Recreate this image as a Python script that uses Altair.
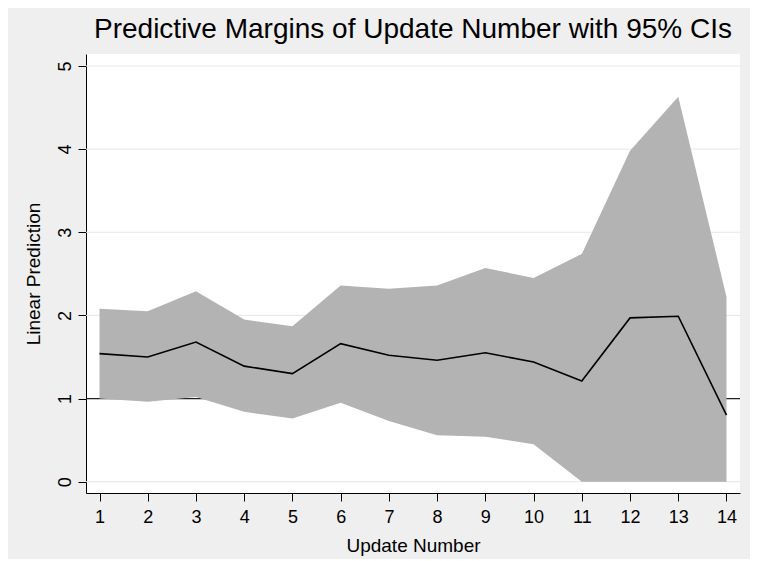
import altair as alt
import pandas as pd

update = list(range(1, 15))
margin = [1.54, 1.50, 1.68, 1.39, 1.30, 1.66, 1.52, 1.46, 1.55, 1.44, 1.21, 1.97, 1.99, 0.80]
upper = [2.08, 2.05, 2.29, 1.95, 1.87, 2.36, 2.32, 2.36, 2.57, 2.45, 2.74, 3.98, 4.63, 2.22]
lower = [1.00, 0.96, 1.02, 0.84, 0.76, 0.95, 0.73, 0.56, 0.54, 0.45, 0.00, 0.00, 0.00, 0.00]
y_ticks = [0, 1, 2, 3, 4, 5]
grid_vals = [0, 2, 3, 4, 5]
ref_val = [1]

df = pd.DataFrame({"x": update, "m": margin, "hi": upper, "lo": lower})
grid_df = pd.DataFrame({"y": grid_vals})
ref_df = pd.DataFrame({"y": ref_val})

FONT = "Liberation Sans"
xscale = alt.Scale(domain=[0.72, 14.28], nice=False, zero=False)
yscale = alt.Scale(domain=[-0.136, 5.144], nice=False, zero=False)

xaxis = alt.Axis(values=update, title="Update Number", grid=False, tickSize=8,
                 labelFontSize=18, titleFontSize=19, labelFont=FONT, titleFont=FONT,
                 titleFontWeight="normal", labelColor="black", titleColor="black",
                 domainColor="black", tickColor="black", labelPadding=7, titlePadding=10,
                 labelFlush=False)
yaxis = alt.Axis(values=y_ticks, title="Linear Prediction", grid=False, tickSize=8,
                 labelFontSize=18, titleFontSize=19, labelFont=FONT, titleFont=FONT,
                 titleFontWeight="normal", labelColor="black", titleColor="black",
                 domainColor="black", tickColor="black", labelAngle=270,
                 labelAlign="center", labelBaseline="bottom", labelPadding=4,
                 titlePadding=13, labelFlush=False)

grid = alt.Chart(grid_df).mark_rule(color="#e6e6e6", strokeWidth=1).encode(
    y=alt.Y("y:Q", scale=yscale, axis=yaxis))
ref = alt.Chart(ref_df).mark_rule(color="#222222", strokeWidth=1.2).encode(
    y=alt.Y("y:Q", scale=yscale, axis=yaxis))
band = alt.Chart(df).mark_area(color="#b3b3b3", opacity=1).encode(
    x=alt.X("x:Q", scale=xscale, axis=xaxis),
    y=alt.Y("lo:Q", scale=yscale, axis=yaxis),
    y2="hi:Q")
line = alt.Chart(df).mark_line(color="black", strokeWidth=1.6).encode(
    x=alt.X("x:Q", scale=xscale, axis=xaxis),
    y=alt.Y("m:Q", scale=yscale, axis=yaxis))

chart = alt.layer(grid, ref, band, line).properties(
    width=654, height=439,
    autosize=alt.AutoSizeParams(type="none"),
    padding={"left": 78, "top": 46, "right": 10, "bottom": 66},
    background="#efefef",
    title=alt.TitleParams("Predictive Margins of Update Number with 95% CIs",
                          fontSize=28, font=FONT, fontWeight="normal", color="black",
                          anchor="middle", offset=10),
).configure_view(fill="white", stroke=None)

chart.save("out.html", embed_options={"renderer": "svg", "actions": False})
